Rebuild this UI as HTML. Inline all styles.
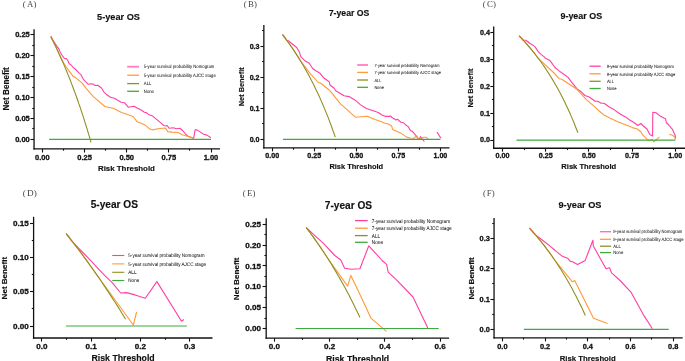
<!DOCTYPE html>
<html><head><meta charset="utf-8"><style>
html,body{margin:0;padding:0;background:#fff;}
svg{display:block;will-change:transform;}
.b{font-family:"Liberation Sans",sans-serif;font-weight:bold;fill:#111;stroke:#111;stroke-width:0.15;}
.t{font-family:"Liberation Sans",sans-serif;font-weight:bold;fill:#111;stroke:#111;stroke-width:0.3;}
.r{font-family:"Liberation Sans",sans-serif;fill:#111;stroke:#111;stroke-width:0.3;text-rendering:geometricPrecision;}
.s{font-family:"Liberation Serif",serif;fill:#444;}
</style></head><body>
<svg width="685" height="361" viewBox="0 0 685 361">
<rect width="685" height="361" fill="#fff"/>
<line x1="34.05" y1="29.2" x2="34.05" y2="149.55" stroke="#111" stroke-width="1.3"/>
<line x1="33.4" y1="148.9" x2="220" y2="148.9" stroke="#111" stroke-width="1.3"/>
<line x1="30.449999999999996" y1="139.50" x2="34.05" y2="139.50" stroke="#111" stroke-width="1.1"/>
<text x="29.75" y="141.88" text-anchor="end" class="t" font-size="7.5">0.00</text>
<line x1="30.449999999999996" y1="118.50" x2="34.05" y2="118.50" stroke="#111" stroke-width="1.1"/>
<text x="29.75" y="120.97" text-anchor="end" class="t" font-size="7.5">0.05</text>
<line x1="30.449999999999996" y1="97.50" x2="34.05" y2="97.50" stroke="#111" stroke-width="1.1"/>
<text x="29.75" y="100.07" text-anchor="end" class="t" font-size="7.5">0.10</text>
<line x1="30.449999999999996" y1="76.50" x2="34.05" y2="76.50" stroke="#111" stroke-width="1.1"/>
<text x="29.75" y="79.17" text-anchor="end" class="t" font-size="7.5">0.15</text>
<line x1="30.449999999999996" y1="55.50" x2="34.05" y2="55.50" stroke="#111" stroke-width="1.1"/>
<text x="29.75" y="58.27" text-anchor="end" class="t" font-size="7.5">0.20</text>
<line x1="30.449999999999996" y1="34.50" x2="34.05" y2="34.50" stroke="#111" stroke-width="1.1"/>
<text x="29.75" y="37.38" text-anchor="end" class="t" font-size="7.5">0.25</text>
<line x1="32.25" y1="128.50" x2="34.05" y2="128.50" stroke="#111" stroke-width="1.1"/>
<line x1="32.25" y1="108.50" x2="34.05" y2="108.50" stroke="#111" stroke-width="1.1"/>
<line x1="32.25" y1="87.50" x2="34.05" y2="87.50" stroke="#111" stroke-width="1.1"/>
<line x1="32.25" y1="66.50" x2="34.05" y2="66.50" stroke="#111" stroke-width="1.1"/>
<line x1="32.25" y1="45.50" x2="34.05" y2="45.50" stroke="#111" stroke-width="1.1"/>
<line x1="42.50" y1="148.9" x2="42.50" y2="152.5" stroke="#111" stroke-width="1.1"/>
<text x="42.40" y="159.60" text-anchor="middle" class="t" font-size="7.5">0.00</text>
<line x1="84.50" y1="148.9" x2="84.50" y2="152.5" stroke="#111" stroke-width="1.1"/>
<text x="84.55" y="159.60" text-anchor="middle" class="t" font-size="7.5">0.25</text>
<line x1="126.50" y1="148.9" x2="126.50" y2="152.5" stroke="#111" stroke-width="1.1"/>
<text x="126.70" y="159.60" text-anchor="middle" class="t" font-size="7.5">0.50</text>
<line x1="168.50" y1="148.9" x2="168.50" y2="152.5" stroke="#111" stroke-width="1.1"/>
<text x="168.85" y="159.60" text-anchor="middle" class="t" font-size="7.5">0.75</text>
<line x1="211.50" y1="148.9" x2="211.50" y2="152.5" stroke="#111" stroke-width="1.1"/>
<text x="211.00" y="159.60" text-anchor="middle" class="t" font-size="7.5">1.00</text>
<line x1="63.50" y1="148.9" x2="63.50" y2="150.70000000000002" stroke="#111" stroke-width="1.1"/>
<line x1="105.50" y1="148.9" x2="105.50" y2="150.70000000000002" stroke="#111" stroke-width="1.1"/>
<line x1="147.50" y1="148.9" x2="147.50" y2="150.70000000000002" stroke="#111" stroke-width="1.1"/>
<line x1="189.50" y1="148.9" x2="189.50" y2="150.70000000000002" stroke="#111" stroke-width="1.1"/>
<text x="97.1" y="19.8" class="b" font-size="9.2">5-year OS</text>
<text x="97.95" y="171.3" class="b" font-size="7.9">Risk Threshold</text>
<text transform="translate(9.4,110.5) rotate(-90)" class="b" font-size="8.2">Net Benefit</text>
<text x="22.8" y="6.7" class="s" opacity="0.99" font-size="8.8" dx="0 1.3 0">(A)</text>
<line x1="127.2" y1="66.7" x2="139" y2="66.7" stroke="#ff7fc0" stroke-width="1.8"/>
<text transform="translate(143.8,68.49) scale(0.1,0.11200000000000002)" class="r" font-size="42.60">5-year survival probability Nomogram</text>
<line x1="127.2" y1="75.2" x2="139" y2="75.2" stroke="#ff9a3a" stroke-width="1.3"/>
<text transform="translate(143.8,76.99) scale(0.1,0.11200000000000002)" class="r" font-size="42.60">5-year survival probability AJCC stage</text>
<line x1="127.2" y1="83.6" x2="139" y2="83.6" stroke="#8f8f24" stroke-width="1.3"/>
<text transform="translate(143.8,85.39) scale(0.1,0.11200000000000002)" class="r" font-size="42.60">ALL</text>
<line x1="127.2" y1="91.3" x2="139" y2="91.3" stroke="#3faa3f" stroke-width="1.3"/>
<text transform="translate(143.8,93.09) scale(0.1,0.11200000000000002)" class="r" font-size="42.60">None</text>
<polyline points="50.8,36.6 53.4,40.9 56.3,45.4 58.8,48.8 60.0,51.7 62.2,55.5 64.4,58.3 66.6,58.9 67.8,60.5 69.4,63.9 71.1,65.0 73.3,67.7 75.0,68.8 76.6,70.5 79.4,73.3 81.1,74.9 82.2,77.1 83.8,79.9 86.0,82.1 88.3,84.3 91.0,83.8 93.2,84.1 95.0,85.5 97.8,85.2 101.7,88.3 104.4,92.7 107.2,95.0 110.5,97.2 114.4,98.3 117.2,100.0 121.1,102.2 124.4,102.7 128.3,107.2 133.9,106.3 137.2,108.1 141.6,110.3 144.4,112.2 146.1,112.5 148.3,114.4 152.7,116.1 156.6,119.4 160.5,122.7 163.8,125.5 166.0,126.0 167.1,125.5 169.3,128.3 173.2,127.7 176.5,128.8 179.9,128.3 182.6,130.5 185.4,133.8 187.6,136.0 192.0,137.7 193.7,138.2 195.1,129.9 197.0,129.9 200.4,132.1 203.7,134.3 207.0,135.1 210.9,137.7" fill="none" stroke="#ff3fa4" stroke-width="1.1" stroke-linejoin="round" />
<polyline points="50.8,36.6 51.7,38.4 52.6,40.2 53.5,42.0 54.4,43.9 55.3,45.7 56.2,47.6 57.1,49.5 58.0,51.5 58.9,53.4 59.8,55.4 60.7,57.4 61.6,59.4 63.3,62.2 66.6,67.7 70.0,72.2 73.3,76.6 75.0,77.1 77.7,79.4 82.2,83.2 86.6,88.8 93.3,96.6 104.9,106.5 113.2,108.2 121.5,112.4 133.2,116.5 137.1,121.8 140.0,122.7 144.4,124.7 147.2,126.6 149.4,128.8 152.7,129.9 157.7,128.8 164.9,128.0 166.0,128.8 167.7,131.6 172.1,132.1 178.2,132.5 182.1,134.7 186.5,136.0 190.4,137.1 193.2,138.2 193.7,139.3" fill="none" stroke="#ff9a3a" stroke-width="1.1" stroke-linejoin="round" />
<polyline points="50.8,36.6 52.1,39.3 53.5,42.0 54.8,44.7 56.2,47.5 57.5,50.4 58.8,53.3 60.2,56.2 61.5,59.2 62.9,62.3 64.2,65.4 65.5,68.6 66.9,71.8 68.2,75.1 69.6,78.5 70.9,81.9 72.2,85.4 73.6,89.0 74.9,92.6 76.3,96.3 77.6,100.0 78.9,103.9 80.3,107.8 81.6,111.8 83.0,115.9 84.3,120.1 85.6,124.4 87.0,128.7 88.3,133.2 89.7,137.7 91.0,142.4" fill="none" stroke="#8f8f24" stroke-width="1.1" stroke-linejoin="round" />
<polyline points="49.1,139.4 211.0,139.4" fill="none" stroke="#3faa3f" stroke-width="1.2" stroke-linejoin="round" />
<line x1="263.85" y1="25" x2="263.85" y2="148.6" stroke="#111" stroke-width="1.3"/>
<line x1="263.20000000000005" y1="147.95" x2="449.5" y2="147.95" stroke="#111" stroke-width="1.3"/>
<line x1="260.45000000000005" y1="139.50" x2="263.85" y2="139.50" stroke="#111" stroke-width="1.1"/>
<text x="259.55" y="141.74" text-anchor="end" class="t" font-size="7.1">0.0</text>
<line x1="260.45000000000005" y1="108.50" x2="263.85" y2="108.50" stroke="#111" stroke-width="1.1"/>
<text x="259.55" y="110.74" text-anchor="end" class="t" font-size="7.1">0.1</text>
<line x1="260.45000000000005" y1="77.50" x2="263.85" y2="77.50" stroke="#111" stroke-width="1.1"/>
<text x="259.55" y="79.74" text-anchor="end" class="t" font-size="7.1">0.2</text>
<line x1="260.45000000000005" y1="46.50" x2="263.85" y2="46.50" stroke="#111" stroke-width="1.1"/>
<text x="259.55" y="48.74" text-anchor="end" class="t" font-size="7.1">0.3</text>
<line x1="262.05" y1="123.50" x2="263.85" y2="123.50" stroke="#111" stroke-width="1.1"/>
<line x1="262.05" y1="92.50" x2="263.85" y2="92.50" stroke="#111" stroke-width="1.1"/>
<line x1="262.05" y1="61.50" x2="263.85" y2="61.50" stroke="#111" stroke-width="1.1"/>
<line x1="262.05" y1="30.50" x2="263.85" y2="30.50" stroke="#111" stroke-width="1.1"/>
<line x1="272.50" y1="147.95" x2="272.50" y2="151.35" stroke="#111" stroke-width="1.1"/>
<text x="272.20" y="158.00" text-anchor="middle" class="t" font-size="7.1">0.00</text>
<line x1="314.50" y1="147.95" x2="314.50" y2="151.35" stroke="#111" stroke-width="1.1"/>
<text x="314.25" y="158.00" text-anchor="middle" class="t" font-size="7.1">0.25</text>
<line x1="356.50" y1="147.95" x2="356.50" y2="151.35" stroke="#111" stroke-width="1.1"/>
<text x="356.30" y="158.00" text-anchor="middle" class="t" font-size="7.1">0.50</text>
<line x1="398.50" y1="147.95" x2="398.50" y2="151.35" stroke="#111" stroke-width="1.1"/>
<text x="398.35" y="158.00" text-anchor="middle" class="t" font-size="7.1">0.75</text>
<line x1="440.50" y1="147.95" x2="440.50" y2="151.35" stroke="#111" stroke-width="1.1"/>
<text x="440.40" y="158.00" text-anchor="middle" class="t" font-size="7.1">1.00</text>
<line x1="293.50" y1="147.95" x2="293.50" y2="149.75" stroke="#111" stroke-width="1.1"/>
<line x1="335.50" y1="147.95" x2="335.50" y2="149.75" stroke="#111" stroke-width="1.1"/>
<line x1="377.50" y1="147.95" x2="377.50" y2="149.75" stroke="#111" stroke-width="1.1"/>
<line x1="419.50" y1="147.95" x2="419.50" y2="149.75" stroke="#111" stroke-width="1.1"/>
<text x="328.75" y="16.4" class="b" font-size="8.7">7-year OS</text>
<text x="329.4" y="168.5" class="b" font-size="7.45">Risk Threshold</text>
<text transform="translate(243.6,106.3) rotate(-90)" class="b" font-size="7.4">Net Benefit</text>
<text x="243.8" y="6.7" class="s" opacity="0.99" font-size="8.8" dx="0 1.3 0">(B)</text>
<line x1="357.2" y1="65.0" x2="368" y2="65.0" stroke="#ff7fc0" stroke-width="1.8"/>
<text transform="translate(374.4,66.65) scale(0.1,0.11200000000000002)" class="r" font-size="39.40">7-year survival probability Nomogram</text>
<line x1="357.2" y1="72.4" x2="368" y2="72.4" stroke="#ff9a3a" stroke-width="1.3"/>
<text transform="translate(374.4,74.05) scale(0.1,0.11200000000000002)" class="r" font-size="39.40">7-year survival probability AJCC stage</text>
<line x1="357.2" y1="80.0" x2="368" y2="80.0" stroke="#8f8f24" stroke-width="1.3"/>
<text transform="translate(374.4,81.65) scale(0.1,0.11200000000000002)" class="r" font-size="39.40">ALL</text>
<line x1="357.2" y1="87.3" x2="368" y2="87.3" stroke="#3faa3f" stroke-width="1.3"/>
<text transform="translate(374.4,88.95) scale(0.1,0.11200000000000002)" class="r" font-size="39.40">None</text>
<polyline points="282.5,34.6 283.1,35.4 283.8,36.2 284.4,37.1 285.0,37.9 285.6,38.7 286.2,39.6 286.9,40.4 287.5,41.3 288.3,40.8 296.7,47.5 299.2,51.7 300.8,56.7 305.0,60.8 309.2,63.3 312.5,68.3 315.8,70.8 320.0,73.3 324.2,78.3 329.2,81.7 330.0,85.0 334.2,88.3 335.7,90.8 344.0,95.7 349.0,96.6 354.8,99.9 360.6,104.9 366.4,108.5 373.1,110.8 378.3,112.5 381.6,114.7 385.5,116.4 389.4,116.4 390.5,115.9 391.6,117.2 396.0,120.0 397.7,119.2 398.8,120.5 401.0,122.2 403.2,122.7 405.5,124.7 408.2,126.6 410.4,130.5 412.7,131.6 414.9,134.3 417.6,138.2 419.2,139.3 420.4,136.6 424.3,141.5" fill="none" stroke="#ff3fa4" stroke-width="1.1" stroke-linejoin="round" />
<polyline points="437.0,132.1 440.9,138.2" fill="none" stroke="#ff3fa4" stroke-width="1.1" stroke-linejoin="round" />
<polyline points="282.5,34.6 284.0,36.6 285.6,38.6 287.1,40.7 288.6,42.8 290.1,45.0 291.7,47.2 293.2,49.4 294.7,51.7 296.2,54.0 297.8,56.4 299.3,58.9 300.8,61.3 310.0,73.3 318.3,82.5 320.8,83.3 328.3,89.2 330.7,91.6 340.7,104.1 348.2,110.7 355.6,117.3 367.3,116.2 375.0,119.4 379.4,121.1 385.0,123.3 388.3,124.0 391.6,126.0 392.7,129.4 397.1,131.6 401.6,133.6 406.6,137.1 410.4,138.0 414.3,138.2 416.5,135.5 418.2,138.2 419.3,138.8 421.5,138.0 423.7,137.3 426.5,137.3 428.2,138.8" fill="none" stroke="#ff9a3a" stroke-width="1.1" stroke-linejoin="round" />
<polyline points="282.5,34.6 284.3,36.9 286.0,39.3 287.8,41.7 289.5,44.1 291.3,46.6 293.1,49.2 294.8,51.9 296.6,54.6 298.3,57.3 300.1,60.2 301.9,63.1 303.6,66.1 305.4,69.2 307.1,72.3 308.9,75.6 310.7,78.9 312.4,82.3 314.2,85.8 315.9,89.4 317.7,93.1 319.5,97.0 321.2,100.9 323.0,104.9 324.7,109.1 326.5,113.4 328.3,117.9 330.0,122.4 331.8,127.2 333.5,132.1 335.3,137.1" fill="none" stroke="#8f8f24" stroke-width="1.1" stroke-linejoin="round" />
<polyline points="282.9,139.4 440.4,139.4" fill="none" stroke="#3faa3f" stroke-width="1.2" stroke-linejoin="round" />
<line x1="493.7" y1="26.6" x2="493.7" y2="148.9" stroke="#111" stroke-width="1.3"/>
<line x1="493.05" y1="148.25" x2="685" y2="148.25" stroke="#111" stroke-width="1.3"/>
<line x1="490.3" y1="140.50" x2="493.7" y2="140.50" stroke="#111" stroke-width="1.1"/>
<text x="489.95" y="142.48" text-anchor="end" class="t" font-size="7.2">0.0</text>
<line x1="490.3" y1="113.50" x2="493.7" y2="113.50" stroke="#111" stroke-width="1.1"/>
<text x="489.95" y="115.58" text-anchor="end" class="t" font-size="7.2">0.1</text>
<line x1="490.3" y1="86.50" x2="493.7" y2="86.50" stroke="#111" stroke-width="1.1"/>
<text x="489.95" y="88.68" text-anchor="end" class="t" font-size="7.2">0.2</text>
<line x1="490.3" y1="59.50" x2="493.7" y2="59.50" stroke="#111" stroke-width="1.1"/>
<text x="489.95" y="61.78" text-anchor="end" class="t" font-size="7.2">0.3</text>
<line x1="490.3" y1="32.50" x2="493.7" y2="32.50" stroke="#111" stroke-width="1.1"/>
<text x="489.95" y="34.88" text-anchor="end" class="t" font-size="7.2">0.4</text>
<line x1="491.9" y1="126.50" x2="493.7" y2="126.50" stroke="#111" stroke-width="1.1"/>
<line x1="491.9" y1="99.50" x2="493.7" y2="99.50" stroke="#111" stroke-width="1.1"/>
<line x1="491.9" y1="72.50" x2="493.7" y2="72.50" stroke="#111" stroke-width="1.1"/>
<line x1="491.9" y1="45.50" x2="493.7" y2="45.50" stroke="#111" stroke-width="1.1"/>
<line x1="502.50" y1="148.25" x2="502.50" y2="151.65" stroke="#111" stroke-width="1.1"/>
<text x="502.45" y="158.20" text-anchor="middle" class="t" font-size="7.2">0.00</text>
<line x1="545.50" y1="148.25" x2="545.50" y2="151.65" stroke="#111" stroke-width="1.1"/>
<text x="545.66" y="158.20" text-anchor="middle" class="t" font-size="7.2">0.25</text>
<line x1="588.50" y1="148.25" x2="588.50" y2="151.65" stroke="#111" stroke-width="1.1"/>
<text x="588.88" y="158.20" text-anchor="middle" class="t" font-size="7.2">0.50</text>
<line x1="632.50" y1="148.25" x2="632.50" y2="151.65" stroke="#111" stroke-width="1.1"/>
<text x="632.09" y="158.20" text-anchor="middle" class="t" font-size="7.2">0.75</text>
<line x1="675.50" y1="148.25" x2="675.50" y2="151.65" stroke="#111" stroke-width="1.1"/>
<text x="675.30" y="158.20" text-anchor="middle" class="t" font-size="7.2">1.00</text>
<line x1="524.50" y1="148.25" x2="524.50" y2="150.05" stroke="#111" stroke-width="1.1"/>
<line x1="567.50" y1="148.25" x2="567.50" y2="150.05" stroke="#111" stroke-width="1.1"/>
<line x1="610.50" y1="148.25" x2="610.50" y2="150.05" stroke="#111" stroke-width="1.1"/>
<line x1="653.50" y1="148.25" x2="653.50" y2="150.05" stroke="#111" stroke-width="1.1"/>
<text x="560.45" y="18.5" class="b" font-size="8.95">9-year OS</text>
<text x="561.3" y="168.6" class="b" font-size="7.6">Risk Threshold</text>
<text transform="translate(473,107.6) rotate(-90)" class="b" font-size="7.4">Net Benefit</text>
<text x="482.8" y="6.7" class="s" opacity="0.99" font-size="8.8" dx="0 1.3 0">(C)</text>
<line x1="589.5" y1="66.2" x2="600.7" y2="66.2" stroke="#ff3fa4" stroke-width="1.3"/>
<text transform="translate(606.9,67.90) scale(0.1,0.11200000000000002)" class="r" font-size="40.50">9-year survival probability Nomogram</text>
<line x1="589.5" y1="73.8" x2="600.7" y2="73.8" stroke="#ff9a3a" stroke-width="1.3"/>
<text transform="translate(606.9,75.50) scale(0.1,0.11200000000000002)" class="r" font-size="40.50">9-year survival probability AJCC stage</text>
<line x1="589.5" y1="81.3" x2="600.7" y2="81.3" stroke="#8f8f24" stroke-width="1.3"/>
<text transform="translate(606.9,83.00) scale(0.1,0.11200000000000002)" class="r" font-size="40.50">ALL</text>
<line x1="589.5" y1="88.5" x2="600.7" y2="88.5" stroke="#3faa3f" stroke-width="1.3"/>
<text transform="translate(606.9,90.20) scale(0.1,0.11200000000000002)" class="r" font-size="40.50">None</text>
<polyline points="519.1,35.8 519.6,36.3 520.1,36.8 520.6,37.4 521.1,37.9 521.6,38.4 522.1,38.9 522.6,39.5 523.1,40.0 525.8,40.3 529.9,43.3 534.9,46.6 538.2,51.6 540.7,54.1 544.9,57.4 545.0,58.1 550.0,60.6 555.0,67.5 558.7,70.6 563.7,74.3 568.1,77.4 571.8,82.4 576.8,88.7 581.2,91.8 584.9,95.5 588.6,96.8 592.4,99.3 595.0,101.2 597.8,101.2 601.2,103.3 604.0,103.3 608.9,106.8 613.0,108.9 618.6,113.0 622.7,115.5 625.5,116.9 629.7,120.0 633.1,122.0 638.0,125.5 640.8,123.4 642.8,125.5 647.0,129.0 649.8,134.5 652.6,135.9 652.8,112.3 656.0,112.8 660.2,116.1 664.3,118.3 665.5,118.5 666.3,122.5 668.7,125.0 672.4,129.3 675.5,136.2 675.5,138.7" fill="none" stroke="#ff3fa4" stroke-width="1.1" stroke-linejoin="round" />
<polyline points="519.1,35.8 520.7,37.4 522.3,39.1 523.9,40.8 525.4,42.6 527.0,44.4 528.6,46.2 530.2,48.1 531.8,50.0 533.4,51.9 534.9,53.9 536.5,56.0 538.1,58.1 545.0,64.6 552.5,71.5 559.3,78.7 561.8,79.3 576.2,88.7 586.2,99.3 595.0,107.2 599.2,111.0 604.0,115.1 610.3,118.3 617.2,121.4 625.5,124.8 632.4,127.6 637.3,129.0 640.8,131.8 642.8,135.2 647.0,139.1 649.8,140.8 651.9,139.4 653.9,141.9 656.7,139.4 659.5,136.9" fill="none" stroke="#ff9a3a" stroke-width="1.1" stroke-linejoin="round" />
<polyline points="669.3,134.3 673.0,135.6 675.0,137.5 675.5,139.5" fill="none" stroke="#ff9a3a" stroke-width="1.1" stroke-linejoin="round" />
<polyline points="519.1,35.8 521.1,37.8 523.0,39.9 525.0,42.1 526.9,44.3 528.9,46.6 530.9,48.9 532.8,51.3 534.8,53.7 536.7,56.3 538.7,58.9 540.7,61.5 542.6,64.3 544.6,67.1 546.5,70.0 548.5,73.1 550.5,76.2 552.4,79.4 554.4,82.7 556.3,86.1 558.3,89.6 560.3,93.3 562.2,97.1 564.2,101.0 566.1,105.0 568.1,109.2 570.1,113.6 572.0,118.1 574.0,122.8 575.9,127.7 577.9,132.8" fill="none" stroke="#8f8f24" stroke-width="1.1" stroke-linejoin="round" />
<polyline points="516.5,140.1 675.3,140.1" fill="none" stroke="#3faa3f" stroke-width="1.2" stroke-linejoin="round" />
<line x1="33.6" y1="216.8" x2="33.6" y2="338.65" stroke="#111" stroke-width="1.3"/>
<line x1="32.95" y1="338.0" x2="212.5" y2="338.0" stroke="#111" stroke-width="1.3"/>
<line x1="30.0" y1="326.50" x2="33.6" y2="326.50" stroke="#111" stroke-width="1.1"/>
<text x="28.85" y="328.67" text-anchor="end" class="t" font-size="8.1">0.00</text>
<line x1="30.0" y1="291.50" x2="33.6" y2="291.50" stroke="#111" stroke-width="1.1"/>
<text x="28.85" y="294.42" text-anchor="end" class="t" font-size="8.1">0.05</text>
<line x1="30.0" y1="257.50" x2="33.6" y2="257.50" stroke="#111" stroke-width="1.1"/>
<text x="28.85" y="260.17" text-anchor="end" class="t" font-size="8.1">0.10</text>
<line x1="30.0" y1="223.50" x2="33.6" y2="223.50" stroke="#111" stroke-width="1.1"/>
<text x="28.85" y="225.92" text-anchor="end" class="t" font-size="8.1">0.15</text>
<line x1="31.8" y1="308.50" x2="33.6" y2="308.50" stroke="#111" stroke-width="1.1"/>
<line x1="31.8" y1="274.50" x2="33.6" y2="274.50" stroke="#111" stroke-width="1.1"/>
<line x1="31.8" y1="240.50" x2="33.6" y2="240.50" stroke="#111" stroke-width="1.1"/>
<line x1="41.50" y1="338.0" x2="41.50" y2="341.6" stroke="#111" stroke-width="1.1"/>
<text x="41.80" y="349.00" text-anchor="middle" class="t" font-size="8.1">0.0</text>
<line x1="91.50" y1="338.0" x2="91.50" y2="341.6" stroke="#111" stroke-width="1.1"/>
<text x="91.10" y="349.00" text-anchor="middle" class="t" font-size="8.1">0.1</text>
<line x1="140.50" y1="338.0" x2="140.50" y2="341.6" stroke="#111" stroke-width="1.1"/>
<text x="140.40" y="349.00" text-anchor="middle" class="t" font-size="8.1">0.2</text>
<line x1="189.50" y1="338.0" x2="189.50" y2="341.6" stroke="#111" stroke-width="1.1"/>
<text x="189.70" y="349.00" text-anchor="middle" class="t" font-size="8.1">0.3</text>
<line x1="66.50" y1="338.0" x2="66.50" y2="339.8" stroke="#111" stroke-width="1.1"/>
<line x1="115.50" y1="338.0" x2="115.50" y2="339.8" stroke="#111" stroke-width="1.1"/>
<line x1="165.50" y1="338.0" x2="165.50" y2="339.8" stroke="#111" stroke-width="1.1"/>
<text x="90.7" y="207.9" class="b" font-size="10.15">5-year OS</text>
<text x="91.5" y="361.3" class="b" font-size="8.75">Risk Threshold</text>
<text transform="translate(7.2,299.4) rotate(-90)" class="b" font-size="8.05">Net Benefit</text>
<text x="22.7" y="195.5" class="s" opacity="0.99" font-size="9.2" dx="0 1.3 0">(D)</text>
<line x1="112.2" y1="255.5" x2="124.3" y2="255.5" stroke="#ff3fa4" stroke-width="1.1"/>
<text transform="translate(128.3,257.43) scale(0.1,0.11200000000000002)" class="r" font-size="46.00">5-year survival probability Nomogram</text>
<line x1="112.2" y1="263.9" x2="124.3" y2="263.9" stroke="#ff9a3a" stroke-width="1.1"/>
<text transform="translate(128.3,265.83) scale(0.1,0.11200000000000002)" class="r" font-size="46.00">5-year survival probability AJCC stage</text>
<line x1="112.2" y1="272.3" x2="124.3" y2="272.3" stroke="#8f8f24" stroke-width="1.1"/>
<text transform="translate(128.3,274.23) scale(0.1,0.11200000000000002)" class="r" font-size="46.00">ALL</text>
<line x1="112.2" y1="280.5" x2="124.3" y2="280.5" stroke="#3faa3f" stroke-width="1.1"/>
<text transform="translate(128.3,282.43) scale(0.1,0.11200000000000002)" class="r" font-size="46.00">None</text>
<polyline points="66.2,233.7 71.4,240.6 78.3,247.8 83.8,253.5 90.8,260.6 94.9,265.2 99.1,269.6 104.6,275.3 109.5,280.2 112.0,282.3 120.7,293.0 126.6,292.6 135.0,294.9 145.3,298.3 156.9,281.6 181.5,321.2 184.0,319.5" fill="none" stroke="#ff3fa4" stroke-width="1.1" stroke-linejoin="round" />
<polyline points="66.2,233.7 68.8,236.9 71.3,240.2 73.9,243.5 76.4,246.8 79.0,250.2 81.6,253.6 84.1,257.1 86.7,260.6 89.2,264.1 91.8,267.7 94.3,271.3 96.9,275.0 133.3,325.0 136.6,312.0" fill="none" stroke="#ff9a3a" stroke-width="1.1" stroke-linejoin="round" />
<polyline points="66.2,233.7 68.2,236.2 70.2,238.7 72.1,241.3 74.1,243.8 76.1,246.4 78.1,249.0 80.1,251.7 82.0,254.3 84.0,257.0 86.0,259.7 88.0,262.4 90.0,265.2 91.9,267.9 93.9,270.7 95.9,273.6 97.9,276.4 99.9,279.3 101.8,282.2 103.8,285.1 105.8,288.1 107.8,291.1 109.8,294.1 111.7,297.1 113.7,300.2 115.7,303.3 117.7,306.4 119.7,309.5 121.6,312.7 123.6,316.0 125.6,319.2" fill="none" stroke="#8f8f24" stroke-width="1.1" stroke-linejoin="round" />
<polyline points="65.9,326.0 186.9,326.0" fill="none" stroke="#3faa3f" stroke-width="1.2" stroke-linejoin="round" />
<line x1="266.2" y1="218.3" x2="266.2" y2="338.75" stroke="#111" stroke-width="1.3"/>
<line x1="265.55" y1="338.1" x2="449.1" y2="338.1" stroke="#111" stroke-width="1.3"/>
<line x1="262.59999999999997" y1="328.50" x2="266.2" y2="328.50" stroke="#111" stroke-width="1.1"/>
<text x="261.10" y="331.17" text-anchor="end" class="t" font-size="8.1">0.00</text>
<line x1="262.59999999999997" y1="307.50" x2="266.2" y2="307.50" stroke="#111" stroke-width="1.1"/>
<text x="261.10" y="310.33" text-anchor="end" class="t" font-size="8.1">0.05</text>
<line x1="262.59999999999997" y1="286.50" x2="266.2" y2="286.50" stroke="#111" stroke-width="1.1"/>
<text x="261.10" y="289.49" text-anchor="end" class="t" font-size="8.1">0.10</text>
<line x1="262.59999999999997" y1="265.50" x2="266.2" y2="265.50" stroke="#111" stroke-width="1.1"/>
<text x="261.10" y="268.65" text-anchor="end" class="t" font-size="8.1">0.15</text>
<line x1="262.59999999999997" y1="245.50" x2="266.2" y2="245.50" stroke="#111" stroke-width="1.1"/>
<text x="261.10" y="247.81" text-anchor="end" class="t" font-size="8.1">0.20</text>
<line x1="262.59999999999997" y1="224.50" x2="266.2" y2="224.50" stroke="#111" stroke-width="1.1"/>
<text x="261.10" y="226.97" text-anchor="end" class="t" font-size="8.1">0.25</text>
<line x1="264.4" y1="318.50" x2="266.2" y2="318.50" stroke="#111" stroke-width="1.1"/>
<line x1="264.4" y1="297.50" x2="266.2" y2="297.50" stroke="#111" stroke-width="1.1"/>
<line x1="264.4" y1="276.50" x2="266.2" y2="276.50" stroke="#111" stroke-width="1.1"/>
<line x1="264.4" y1="255.50" x2="266.2" y2="255.50" stroke="#111" stroke-width="1.1"/>
<line x1="264.4" y1="234.50" x2="266.2" y2="234.50" stroke="#111" stroke-width="1.1"/>
<line x1="274.50" y1="338.1" x2="274.50" y2="341.70000000000005" stroke="#111" stroke-width="1.1"/>
<text x="274.40" y="349.30" text-anchor="middle" class="t" font-size="8.1">0.0</text>
<line x1="329.50" y1="338.1" x2="329.50" y2="341.70000000000005" stroke="#111" stroke-width="1.1"/>
<text x="329.66" y="349.30" text-anchor="middle" class="t" font-size="8.1">0.2</text>
<line x1="384.50" y1="338.1" x2="384.50" y2="341.70000000000005" stroke="#111" stroke-width="1.1"/>
<text x="384.92" y="349.30" text-anchor="middle" class="t" font-size="8.1">0.4</text>
<line x1="440.50" y1="338.1" x2="440.50" y2="341.70000000000005" stroke="#111" stroke-width="1.1"/>
<text x="440.18" y="349.30" text-anchor="middle" class="t" font-size="8.1">0.6</text>
<line x1="302.50" y1="338.1" x2="302.50" y2="339.90000000000003" stroke="#111" stroke-width="1.1"/>
<line x1="357.50" y1="338.1" x2="357.50" y2="339.90000000000003" stroke="#111" stroke-width="1.1"/>
<line x1="412.50" y1="338.1" x2="412.50" y2="339.90000000000003" stroke="#111" stroke-width="1.1"/>
<text x="324.8" y="208.9" class="b" font-size="10.15">7-year OS</text>
<text x="326.0" y="361.5" class="b" font-size="8.75">Risk Threshold</text>
<text transform="translate(238.9,300.2) rotate(-90)" class="b" font-size="8.1">Net Benefit</text>
<text x="242.8" y="195.8" class="s" opacity="0.99" font-size="8.8" dx="0 1.3 0">(E)</text>
<line x1="355" y1="220.6" x2="367.7" y2="220.6" stroke="#ff3fa4" stroke-width="1.3"/>
<text transform="translate(371.8,222.59) scale(0.1,0.11200000000000002)" class="r" font-size="47.30">7-year survival probability Nomogram</text>
<line x1="355" y1="228.2" x2="367.7" y2="228.2" stroke="#ff9a3a" stroke-width="1.3"/>
<text transform="translate(371.8,230.19) scale(0.1,0.11200000000000002)" class="r" font-size="47.30">7-year survival probability AJCC stage</text>
<line x1="355" y1="235.6" x2="367.7" y2="235.6" stroke="#8f8f24" stroke-width="1.3"/>
<text transform="translate(371.8,237.59) scale(0.1,0.11200000000000002)" class="r" font-size="47.30">ALL</text>
<line x1="355" y1="242.3" x2="367.7" y2="242.3" stroke="#3faa3f" stroke-width="1.3"/>
<text transform="translate(371.8,244.29) scale(0.1,0.11200000000000002)" class="r" font-size="47.30">None</text>
<polyline points="306.2,227.5 313.2,234.1 323.2,243.2 334.8,255.5 340.8,260.0 344.6,268.3 351.4,269.2 359.9,268.7 368.8,245.8 382.1,260.5 386.6,264.4 388.2,272.1 396.0,279.3 413.0,297.0 427.8,328.1" fill="none" stroke="#ff3fa4" stroke-width="1.1" stroke-linejoin="round" />
<polyline points="306.2,227.5 307.9,229.8 309.7,232.1 311.4,234.5 313.2,236.9 314.9,239.4 316.7,241.8 318.4,244.3 320.2,246.9 321.9,249.5 323.7,252.1 325.4,254.8 327.2,257.5 347.6,286.1 350.9,275.4 358.3,291.0 370.9,318.1 386.4,331.4" fill="none" stroke="#ff9a3a" stroke-width="1.1" stroke-linejoin="round" />
<polyline points="306.2,227.5 308.0,229.9 309.8,232.2 311.6,234.7 313.4,237.1 315.1,239.6 316.9,242.2 318.7,244.8 320.5,247.4 322.3,250.0 324.1,252.7 325.9,255.5 327.7,258.3 329.5,261.1 331.3,264.0 333.0,266.9 334.8,269.9 336.6,272.9 338.4,276.0 340.2,279.1 342.0,282.3 343.8,285.5 345.6,288.8 347.4,292.2 349.2,295.6 350.9,299.1 352.7,302.6 354.5,306.2 356.3,309.9 358.1,313.6 359.9,317.4" fill="none" stroke="#8f8f24" stroke-width="1.1" stroke-linejoin="round" />
<polyline points="295.6,328.5 438.7,328.5" fill="none" stroke="#3faa3f" stroke-width="1.2" stroke-linejoin="round" />
<line x1="494.05" y1="218" x2="494.05" y2="338.45" stroke="#111" stroke-width="1.3"/>
<line x1="493.40000000000003" y1="337.8" x2="682.7" y2="337.8" stroke="#111" stroke-width="1.3"/>
<line x1="490.45" y1="329.50" x2="494.05" y2="329.50" stroke="#111" stroke-width="1.1"/>
<text x="489.85" y="331.84" text-anchor="end" class="t" font-size="7.4">0.0</text>
<line x1="490.45" y1="299.50" x2="494.05" y2="299.50" stroke="#111" stroke-width="1.1"/>
<text x="489.85" y="301.51" text-anchor="end" class="t" font-size="7.4">0.1</text>
<line x1="490.45" y1="268.50" x2="494.05" y2="268.50" stroke="#111" stroke-width="1.1"/>
<text x="489.85" y="271.18" text-anchor="end" class="t" font-size="7.4">0.2</text>
<line x1="490.45" y1="238.50" x2="494.05" y2="238.50" stroke="#111" stroke-width="1.1"/>
<text x="489.85" y="240.85" text-anchor="end" class="t" font-size="7.4">0.3</text>
<line x1="492.25" y1="314.50" x2="494.05" y2="314.50" stroke="#111" stroke-width="1.1"/>
<line x1="492.25" y1="283.50" x2="494.05" y2="283.50" stroke="#111" stroke-width="1.1"/>
<line x1="492.25" y1="253.50" x2="494.05" y2="253.50" stroke="#111" stroke-width="1.1"/>
<line x1="492.25" y1="223.50" x2="494.05" y2="223.50" stroke="#111" stroke-width="1.1"/>
<line x1="502.50" y1="337.8" x2="502.50" y2="341.40000000000003" stroke="#111" stroke-width="1.1"/>
<text x="502.40" y="348.80" text-anchor="middle" class="t" font-size="7.4">0.0</text>
<line x1="545.50" y1="337.8" x2="545.50" y2="341.40000000000003" stroke="#111" stroke-width="1.1"/>
<text x="545.10" y="348.80" text-anchor="middle" class="t" font-size="7.4">0.2</text>
<line x1="587.50" y1="337.8" x2="587.50" y2="341.40000000000003" stroke="#111" stroke-width="1.1"/>
<text x="587.80" y="348.80" text-anchor="middle" class="t" font-size="7.4">0.4</text>
<line x1="630.50" y1="337.8" x2="630.50" y2="341.40000000000003" stroke="#111" stroke-width="1.1"/>
<text x="630.50" y="348.80" text-anchor="middle" class="t" font-size="7.4">0.6</text>
<line x1="673.50" y1="337.8" x2="673.50" y2="341.40000000000003" stroke="#111" stroke-width="1.1"/>
<text x="673.20" y="348.80" text-anchor="middle" class="t" font-size="7.4">0.8</text>
<line x1="523.50" y1="337.8" x2="523.50" y2="339.6" stroke="#111" stroke-width="1.1"/>
<line x1="566.50" y1="337.8" x2="566.50" y2="339.6" stroke="#111" stroke-width="1.1"/>
<line x1="609.50" y1="337.8" x2="609.50" y2="339.6" stroke="#111" stroke-width="1.1"/>
<line x1="651.50" y1="337.8" x2="651.50" y2="339.6" stroke="#111" stroke-width="1.1"/>
<text x="558.5" y="208.2" class="b" font-size="9.2">9-year OS</text>
<text x="559.75" y="361.3" class="b" font-size="7.75">Risk Threshold</text>
<text transform="translate(473.9,299.5) rotate(-90)" class="b" font-size="8.0">Net Benefit</text>
<text x="483.0" y="195.5" class="s" opacity="0.99" font-size="8.8" dx="0 0.8 0">(F)</text>
<line x1="600" y1="231.7" x2="611.1" y2="231.7" stroke="#ff6fb8" stroke-width="1.4"/>
<text transform="translate(613.3,233.45) scale(0.1,0.11200000000000002)" class="r" font-size="41.60">9-year survival probability Nomogram</text>
<line x1="600" y1="239.3" x2="611.1" y2="239.3" stroke="#ff9a3a" stroke-width="1.3"/>
<text transform="translate(613.3,241.05) scale(0.1,0.11200000000000002)" class="r" font-size="41.60">9-year survival probability AJCC stage</text>
<line x1="600" y1="246.2" x2="611.1" y2="246.2" stroke="#8f8f24" stroke-width="1.3"/>
<text transform="translate(613.3,247.95) scale(0.1,0.11200000000000002)" class="r" font-size="41.60">ALL</text>
<line x1="600" y1="252.6" x2="611.1" y2="252.6" stroke="#3faa3f" stroke-width="1.3"/>
<text transform="translate(613.3,254.35) scale(0.1,0.11200000000000002)" class="r" font-size="41.60">None</text>
<polyline points="529.4,228.0 530.2,228.9 531.1,229.9 532.0,230.8 532.8,231.8 533.6,232.8 534.5,233.7 535.4,234.7 536.2,235.7 536.6,235.8 543.2,240.8 550.7,246.6 554.7,250.0 556.5,251.6 561.8,255.9 567.6,258.2 570.0,261.1 572.4,261.8 577.6,264.5 585.2,260.4 592.9,240.3 593.3,245.9 599.7,257.4 606.0,268.7 609.5,267.7 611.6,272.9 620.0,280.5 631.2,292.4 644.1,315.9 652.4,328.8" fill="none" stroke="#ff3fa4" stroke-width="1.1" stroke-linejoin="round" />
<polyline points="529.4,228.0 531.5,230.4 533.6,232.8 535.8,235.2 537.9,237.8 540.0,240.3 542.1,243.0 544.3,245.7 546.4,248.5 548.5,251.3 550.6,254.3 552.8,257.3 554.9,260.3 572.4,281.8 574.7,280.6 593.5,318.2 607.6,323.6" fill="none" stroke="#ff9a3a" stroke-width="1.1" stroke-linejoin="round" />
<polyline points="529.4,228.0 531.3,230.1 533.1,232.2 535.0,234.3 536.9,236.5 538.7,238.7 540.6,241.0 542.4,243.4 544.3,245.7 546.2,248.2 548.0,250.7 549.9,253.2 551.8,255.8 553.6,258.5 555.5,261.2 557.3,264.0 559.2,266.9 561.1,269.8 562.9,272.8 564.8,275.8 566.7,279.0 568.5,282.2 570.4,285.5 572.3,288.9 574.1,292.4 576.0,296.0 577.8,299.7 579.7,303.4 581.6,307.3 583.4,311.3 585.3,315.4" fill="none" stroke="#8f8f24" stroke-width="1.1" stroke-linejoin="round" />
<polyline points="523.8,329.4 668.7,329.4" fill="none" stroke="#3faa3f" stroke-width="1.2" stroke-linejoin="round" />
</svg></body></html>
